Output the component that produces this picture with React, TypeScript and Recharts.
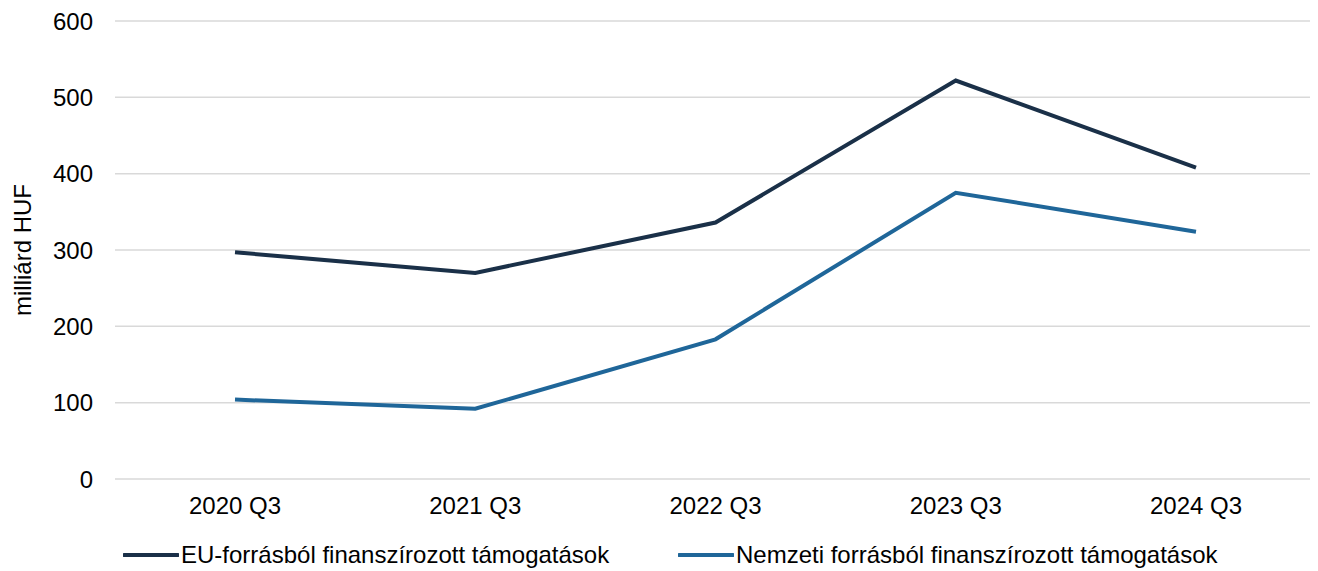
import React from 'react';
import { LineChart, Line, XAxis, YAxis, CartesianGrid, Legend } from 'recharts';

const periods = ['2020 Q3', '2021 Q3', '2022 Q3', '2023 Q3', '2024 Q3'];
const euFunded = [297, 270, 336, 522, 408];
const nationalFunded = [104, 92, 183, 375, 324];
const yTicks = [0, 100, 200, 300, 400, 500, 600];

const EU_NAME = 'EU-forrásból finanszírozott támogatások';
const NAT_NAME = 'Nemzeti forrásból finanszírozott támogatások';
const EU_COLOR = '#1a3048';
const NAT_COLOR = '#1f6699';

const data = periods.map((p, i) => ({ period: p, eu: euFunded[i], nat: nationalFunded[i] }));

const font = '"Liberation Sans", Arial, sans-serif';

const LegendBox = () => {
  const items = [
    { name: EU_NAME, color: EU_COLOR, left: 115 },
    { name: NAT_NAME, color: NAT_COLOR, left: 670 },
  ];
  return (
    <div style={{ position: 'relative', height: 30, fontFamily: font, fontSize: 24, color: '#000' }}>
      {items.map((it) => (
        <div key={it.name} style={{ position: 'absolute', left: it.left, top: 0, display: 'flex', alignItems: 'center', whiteSpace: 'nowrap' }}>
          <svg width={56} height={6} style={{ marginRight: 2 }}>
            <line x1={1} y1={3} x2={55} y2={3} stroke={it.color} strokeWidth={4} strokeLinecap="round" />
          </svg>
          <span>{it.name}</span>
        </div>
      ))}
    </div>
  );
};

export default function App() {
  return (
    <div style={{ width: 1310, height: 563, fontFamily: font }}>
      <LineChart width={1310} height={563} data={data} margin={{ top: 13, right: 2, bottom: 0, left: 0 }}>
        <CartesianGrid vertical={false} stroke="#d9d9d9" strokeWidth={1.5} />
        <XAxis
          dataKey="period"
          axisLine={false}
          tickLine={false}
          tickSize={16}
          tickMargin={2}
          height={62}
          padding={{ left: 120, right: 120 }}
          tick={{ fill: '#000', fontSize: 24, fontFamily: font }}
        />
        <YAxis
          domain={[0, 600]}
          ticks={yTicks}
          axisLine={false}
          tickLine={false}
          tickSize={20}
          tickMargin={2}
          width={107}
          tick={{ fill: '#000', fontSize: 24, fontFamily: font }}
          label={{ value: 'milliárd HUF', angle: -90, position: 'insideLeft', offset: 14, style: { fill: '#000', fontSize: 24, fontFamily: font, textAnchor: 'middle' } }}
        />
        <Legend verticalAlign="bottom" height={30} content={() => <LegendBox />} wrapperStyle={{ left: 0, width: 1310 }} />
        <Line type="linear" dataKey="eu" name={EU_NAME} stroke={EU_COLOR} strokeWidth={4} dot={false} activeDot={false} isAnimationActive={false} />
        <Line type="linear" dataKey="nat" name={NAT_NAME} stroke={NAT_COLOR} strokeWidth={4} dot={false} activeDot={false} isAnimationActive={false} />
      </LineChart>
    </div>
  );
}
